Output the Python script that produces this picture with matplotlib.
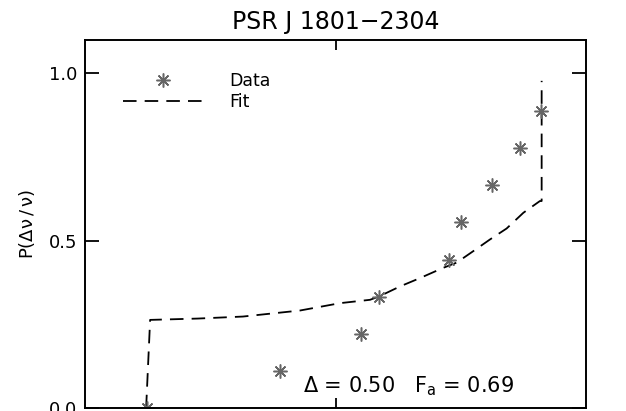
import matplotlib
matplotlib.use("Agg")
import matplotlib.pyplot as plt

# cumulative distribution of glitch sizes (x in arbitrary axis units)
data_x = [0.245, 0.779, 1.102, 1.175, 1.455, 1.502, 1.627, 1.739, 1.821]
data_y = [0.0, 0.111, 0.222, 0.333, 0.444, 0.556, 0.667, 0.778, 0.889]

fit_x = [0.243, 0.259, 0.45, 0.630, 0.858, 1.018, 1.138, 1.174, 1.258,
         1.338, 1.429, 1.484, 1.550, 1.617, 1.684, 1.751, 1.817, 1.824, 1.824]
fit_y = [0.0, 0.264, 0.268, 0.274, 0.292, 0.314, 0.324, 0.334, 0.364,
         0.389, 0.419, 0.435, 0.469, 0.504, 0.537, 0.584, 0.619, 0.619, 0.978]

title = "PSR J 1801\u22122304"
ylabel = r"P($\Delta\nu\,/\,\nu$)"
note = r"$\Delta$ = 0.50   F$_a$ = 0.69"

plt.rcParams["font.family"] = ["DejaVu Sans"]
plt.rcParams["mathtext.default"] = "regular"

fig = plt.figure(figsize=(6.26, 4.11), dpi=100)
ax = fig.add_axes([0.1363, 0.0066, 0.7993, 0.8961])

ax.plot(fit_x, fit_y, color="black", lw=1.3, dashes=(7.5, 4.5), label="Fit")
ax.plot(data_x, data_y, ls="none", marker=(8, 2, 0), ms=10, mew=1.1,
        color="#666666", label="Data")

ax.set_xlim(0, 2)
ax.set_ylim(0, 1.1)
ax.set_xticks([1.0])
ax.set_xticklabels([])
ax.set_yticks([0.0, 0.5, 1.0])
ax.set_yticklabels(["0.0", "0.5", "1.0"])
ax.tick_params(axis="both", direction="in", top=True, right=True,
               length=10, width=1.3, labelsize=13, pad=6)
ax.tick_params(axis="x", length=7)
for s in ax.spines.values():
    s.set_linewidth(1.4)

ax.set_ylabel(ylabel, fontsize=13, labelpad=8)
ax.set_title(title, fontsize=17, pad=8)
ax.text(0.87, 0.065, note, fontsize=15, va="center")

h, l = ax.get_legend_handles_labels()
ax.legend(h[::-1], l[::-1], loc="upper left", bbox_to_anchor=(0.045, 0.955),
          frameon=False, fontsize=12.5, handlelength=4.5, handletextpad=1.6,
          labelspacing=0.15)

fig.savefig("out.png", dpi=100)
